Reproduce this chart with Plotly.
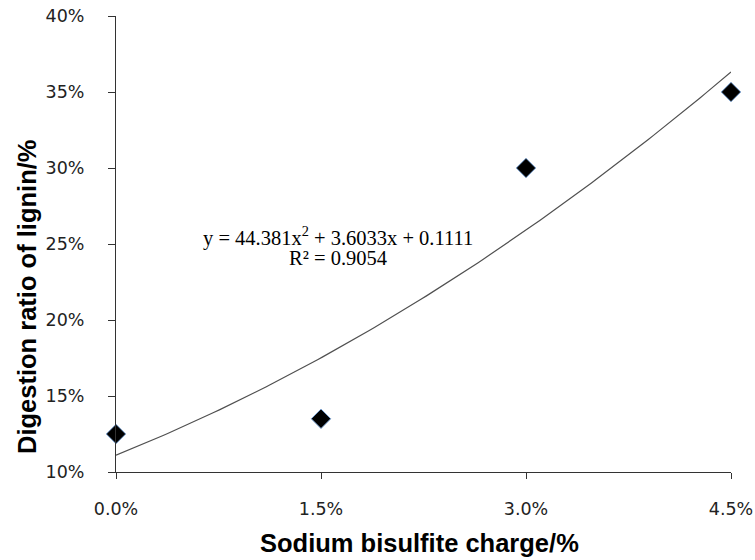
import numpy as np
import plotly.graph_objects as go

# Sodium bisulfite charge (fraction) and lignin digestion ratio (fraction)
charge = [0.0, 0.015, 0.03, 0.045]
digestion = [0.125, 0.135, 0.30, 0.35]

# Quadratic trendline coefficients: y = a*x^2 + b*x + c
coef_a = 44.381
coef_b = 3.6033
coef_c = 0.1111
r_squared = 0.9054

x_ticks = [0.0, 0.015, 0.03, 0.045]

x_title = "Sodium bisulfite charge/%"
y_title = "Digestion ratio of lignin/%"

trend_x = np.linspace(charge[0], charge[-1], 120)
trend_y = coef_a * trend_x**2 + coef_b * trend_x + coef_c

fig = go.Figure()

fig.add_trace(go.Scatter(
    x=trend_x, y=trend_y, mode="lines",
    line=dict(color="#505050", width=1.2),
    hoverinfo="skip", showlegend=False, cliponaxis=False,
))

fig.add_trace(go.Scatter(
    x=charge, y=digestion, mode="markers",
    marker=dict(symbol="diamond", size=15, color="black",
                line=dict(color="#7fa6d6", width=1)),
    showlegend=False, cliponaxis=False,
))

# Trendline equation and goodness of fit, one annotation per line
eq_font = dict(family="Liberation Serif", size=20.5, color="black")
fig.add_annotation(
    x=0.01624, y=0.2552, xref="x", yref="y",
    xanchor="center", yanchor="middle",
    text=f"y = {coef_a}x<sup>2</sup> + {coef_b}x + {coef_c}",
    showarrow=False, font=eq_font,
)
fig.add_annotation(
    x=0.01624, y=0.2408, xref="x", yref="y",
    xanchor="center", yanchor="middle",
    text=f"R² = {r_squared}",
    showarrow=False, font=eq_font,
)

title_font = dict(family="Liberation Sans", size=25.5, color="black", weight="bold")

# Axis titles
fig.add_annotation(
    x=0.494, y=-0.1548, xref="paper", yref="paper",
    xanchor="center", yanchor="middle",
    text=x_title, showarrow=False, font=title_font,
)
fig.add_annotation(
    x=-0.1447, y=0.3838, xref="paper", yref="paper",
    xanchor="center", yanchor="middle", textangle=-90,
    text=y_title, showarrow=False, font=title_font,
)

tick_font = dict(family="DejaVu Sans", size=17.5, color="#222222")

fig.update_layout(
    width=755, height=560,
    margin=dict(l=116, r=24, t=16, b=88),
    paper_bgcolor="white", plot_bgcolor="white",
    xaxis=dict(
        range=[0, 0.045], tickvals=x_ticks, tickformat=".1%",
        showgrid=False, zeroline=False, automargin=False,
        showline=True, linecolor="#333333", linewidth=1,
        ticks="outside", ticklen=6, tickcolor="#333333",
        tickfont=tick_font, ticklabelstandoff=15,
    ),
    yaxis=dict(
        range=[0.10, 0.40], dtick=0.05, tickformat=".0%",
        showgrid=False, zeroline=False, automargin=False,
        showline=True, linecolor="#333333", linewidth=1,
        ticks="outside", ticklen=7, tickcolor="#333333",
        tickfont=tick_font, ticklabelstandoff=20,
    ),
)

fig.write_html("out.html")
